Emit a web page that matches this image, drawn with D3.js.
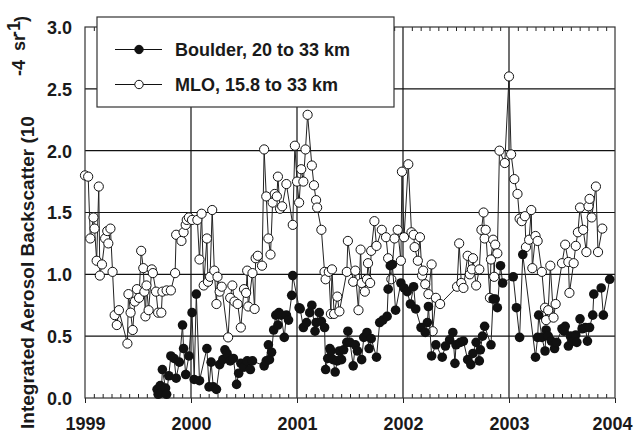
<!DOCTYPE html>
<html>
<head>
<meta charset="utf-8">
<script src="https://cdn.jsdelivr.net/npm/d3@7"></script>
<style>
  body { margin: 0; background: #fff; }
  text { font-family: "Liberation Sans", Arial, sans-serif; font-weight: bold; fill: #1a1a1a; }
</style>
</head>
<body>
<svg id="chart" width="634" height="435"></svg>
<script>
// MLO, 15.8 to 33 km (open circles)
const mloYears = [1999.00,1999.03,1999.05,1999.08,1999.09,1999.11,1999.13,1999.14,1999.16,1999.19,1999.21,1999.22,1999.24,1999.26,1999.28,1999.30,1999.32,1999.40,1999.41,1999.43,1999.45,1999.47,1999.49,1999.51,1999.53,1999.55,1999.56,1999.57,1999.58,1999.60,1999.63,1999.64,1999.67,1999.69,1999.72,1999.73,1999.77,1999.81,1999.85,1999.86,1999.91,1999.93,1999.95,1999.96,1999.98,2000.01,2000.06,2000.08,2000.10,2000.12,2000.15,2000.16,2000.18,2000.20,2000.22,2000.24,2000.25,2000.27,2000.29,2000.35,2000.37,2000.39,2000.41,2000.44,2000.47,2000.50,2000.52,2000.53,2000.54,2000.58,2000.60,2000.61,2000.63,2000.67,2000.69,2000.71,2000.73,2000.75,2000.77,2000.79,2000.81,2000.82,2000.84,2000.86,2000.90,2000.96,2000.98,2001.00,2001.02,2001.04,2001.06,2001.08,2001.10,2001.14,2001.16,2001.18,2001.19,2001.23,2001.26,2001.27,2001.30,2001.32,2001.33,2001.35,2001.38,2001.40,2001.47,2001.48,2001.53,2001.55,2001.58,2001.60,2001.61,2001.64,2001.66,2001.67,2001.69,2001.70,2001.73,2001.75,2001.80,2001.84,2001.86,2001.89,2001.92,2001.95,2001.98,2001.99,2002.01,2002.05,2002.08,2002.10,2002.11,2002.14,2002.16,2002.18,2002.19,2002.21,2002.24,2002.27,2002.28,2002.31,2002.35,2002.51,2002.53,2002.55,2002.57,2002.61,2002.63,2002.65,2002.66,2002.69,2002.72,2002.74,2002.76,2002.77,2002.78,2002.82,2002.83,2002.85,2002.86,2002.87,2002.89,2002.91,2002.96,2003.00,2003.02,2003.05,2003.08,2003.10,2003.12,2003.15,2003.16,2003.19,2003.21,2003.22,2003.25,2003.27,2003.31,2003.34,2003.35,2003.37,2003.39,2003.42,2003.44,2003.50,2003.53,2003.56,2003.57,2003.61,2003.63,2003.65,2003.67,2003.70,2003.73,2003.75,2003.76,2003.78,2003.82,2003.84,2003.88];
const mloValues = [1.80,1.79,1.29,1.46,1.37,1.11,1.71,0.99,1.08,1.29,1.35,1.25,1.37,1.02,0.67,0.59,0.71,0.44,0.84,0.69,0.55,0.78,0.88,0.81,1.19,1.05,0.86,0.66,0.91,0.71,1.04,1.01,0.86,0.69,0.69,0.86,0.87,0.87,1.01,1.32,1.27,1.34,1.40,1.44,1.46,1.44,1.44,1.12,1.49,0.91,1.29,0.94,0.98,1.52,1.03,0.76,0.98,0.86,0.90,0.49,0.81,0.91,0.78,0.76,0.57,0.88,0.85,1.03,0.74,1.01,0.72,1.13,1.15,1.07,2.01,1.63,1.29,1.16,1.58,1.65,1.63,1.79,1.53,1.55,1.73,1.40,2.04,1.75,1.58,1.85,1.75,2.01,2.29,1.88,1.72,1.60,1.54,1.36,1.02,0.96,1.02,0.68,1.04,0.68,0.82,0.70,1.02,1.27,0.94,1.03,0.71,1.20,0.93,0.86,0.96,1.09,0.93,1.19,1.43,1.23,1.36,1.30,1.13,0.96,1.29,1.36,1.11,1.83,1.30,1.89,1.34,1.32,1.22,1.11,1.30,0.99,1.03,0.92,0.84,1.08,0.54,0.81,0.76,0.90,1.25,0.93,0.89,1.15,1.00,1.04,1.13,0.91,1.04,1.36,1.50,1.29,1.36,0.81,1.12,1.28,0.98,1.24,1.17,2.00,1.90,2.60,1.97,1.77,1.65,1.45,1.43,1.47,1.22,1.28,1.52,1.05,1.31,1.27,1.02,0.73,0.63,0.71,1.07,0.65,0.76,1.09,1.24,1.10,0.85,1.09,1.23,1.34,1.54,1.36,1.18,1.55,1.61,1.46,1.71,1.18,1.37];

// Boulder, 20 to 33 km (filled circles)
const boulderYears = [1999.68,1999.69,1999.71,1999.72,1999.73,1999.76,1999.77,1999.79,1999.81,1999.84,1999.86,1999.89,1999.92,1999.93,1999.95,1999.98,2000.01,2000.03,2000.05,2000.08,2000.15,2000.17,2000.19,2000.21,2000.24,2000.27,2000.30,2000.32,2000.34,2000.37,2000.40,2000.43,2000.45,2000.47,2000.50,2000.53,2000.56,2000.58,2000.69,2000.71,2000.73,2000.74,2000.76,2000.78,2000.80,2000.82,2000.83,2000.85,2000.88,2000.90,2000.92,2000.95,2000.96,2001.02,2001.03,2001.06,2001.09,2001.12,2001.14,2001.17,2001.18,2001.21,2001.23,2001.26,2001.27,2001.29,2001.31,2001.32,2001.34,2001.36,2001.38,2001.40,2001.42,2001.44,2001.47,2001.48,2001.50,2001.53,2001.55,2001.57,2001.61,2001.63,2001.66,2001.68,2001.70,2001.75,2001.78,2001.81,2001.85,2001.86,2001.88,2001.90,2001.93,2001.98,2002.01,2002.04,2002.07,2002.10,2002.12,2002.17,2002.21,2002.23,2002.24,2002.27,2002.31,2002.37,2002.40,2002.44,2002.47,2002.49,2002.50,2002.54,2002.57,2002.61,2002.64,2002.66,2002.69,2002.72,2002.73,2002.75,2002.77,2002.83,2002.85,2002.87,2002.89,2002.92,2002.94,2003.04,2003.07,2003.10,2003.13,2003.25,2003.27,2003.28,2003.31,2003.34,2003.35,2003.37,2003.40,2003.43,2003.45,2003.50,2003.52,2003.53,2003.56,2003.58,2003.60,2003.63,2003.64,2003.67,2003.69,2003.72,2003.74,2003.76,2003.79,2003.80,2003.87,2003.89,2003.95];
const boulderValues = [0.07,0.03,0.10,0.04,0.23,0.08,0.03,0.18,0.34,0.32,0.16,0.29,0.59,0.40,0.19,0.34,0.69,0.15,0.84,0.14,0.40,0.09,0.29,0.09,0.07,0.27,0.31,0.39,0.36,0.30,0.32,0.11,0.20,0.28,0.25,0.30,0.23,0.30,0.26,0.30,0.43,0.31,0.37,0.55,0.67,0.59,0.69,0.67,0.49,0.67,0.63,0.83,0.99,0.73,0.72,0.57,0.61,0.69,0.75,0.54,0.61,0.69,0.62,0.57,0.23,0.32,0.40,0.38,0.31,0.21,0.30,0.38,0.31,0.39,0.45,0.54,0.45,0.26,0.43,0.38,0.31,0.49,0.53,0.40,0.48,0.33,0.61,0.63,0.66,0.88,1.07,1.08,0.71,0.93,0.89,0.86,0.76,0.90,0.72,0.57,0.53,0.61,0.74,0.34,0.43,0.33,0.42,0.47,0.53,0.28,0.43,0.45,0.46,0.31,0.27,0.36,0.45,0.30,0.39,0.50,0.58,0.43,0.80,0.80,0.73,1.07,0.93,0.98,0.73,0.49,1.16,0.33,0.49,0.67,0.49,0.38,0.55,0.50,0.46,0.40,0.45,0.56,0.54,0.58,0.42,0.50,0.46,0.51,0.45,0.64,0.56,0.57,0.46,0.57,0.67,0.84,0.89,0.67,0.96];

const yearTicks = [1999, 2000, 2001, 2002, 2003, 2004];
const valueTicks = [0.0, 0.5, 1.0, 1.5, 2.0, 2.5, 3.0];
const legendLabels = ["Boulder, 20 to 33 km", "MLO, 15.8 to 33 km"];

const svg = d3.select("#chart");
const plotLeft = 85, plotRight = 615, plotTop = 27, plotBottom = 398;

const x = d3.scaleLinear().domain([1999, 2004]).range([plotLeft, plotRight]);
const y = d3.scaleLinear().domain([0, 3]).range([plotBottom, plotTop]);

// grid
svg.append("g").selectAll("line")
  .data(valueTicks.slice(1, -1))
  .enter().append("line")
  .attr("x1", plotLeft).attr("x2", plotRight)
  .attr("y1", d => y(d)).attr("y2", d => y(d))
  .attr("stroke", "#111").attr("stroke-width", 1.2);
svg.append("g").selectAll("line")
  .data(yearTicks.slice(1, -1))
  .enter().append("line")
  .attr("x1", d => x(d)).attr("x2", d => x(d))
  .attr("y1", plotTop).attr("y2", plotBottom)
  .attr("stroke", "#111").attr("stroke-width", 1.2);

// monthly minor ticks, bottom (pointing up) and top (pointing down)
const months = d3.range(0, 60).map(i => 1999 + i / 12).filter((d, i) => i % 12 !== 0);
const minorBottom = svg.append("g").attr("transform", `translate(0,${plotBottom})`)
  .call(d3.axisBottom(x).tickValues(months).tickSize(-4).tickFormat(""));
const minorTop = svg.append("g").attr("transform", `translate(0,${plotTop})`)
  .call(d3.axisTop(x).tickValues(months).tickSize(-4).tickFormat(""));
[minorBottom, minorTop].forEach(g => {
  g.select(".domain").remove();
  g.selectAll("line").attr("stroke", "#222").attr("stroke-width", 1);
});

// year axis
const xAxis = svg.append("g").attr("transform", `translate(0,${plotBottom})`)
  .call(d3.axisBottom(x).tickValues(yearTicks).tickSize(5).tickPadding(14).tickFormat(d3.format("d")));
xAxis.select(".domain").remove();
xAxis.selectAll("line").attr("stroke", "#222");
xAxis.selectAll("text").attr("font-size", 18).attr("fill", "#1a1a1a").attr("font-family", null)
  .attr("dx", d => d === 2004 ? -3 : 0);

// value axis
const yAxis = svg.append("g").attr("transform", `translate(${plotLeft},0)`)
  .call(d3.axisLeft(y).tickValues(valueTicks).tickSize(0).tickPadding(13).tickFormat(d3.format(".1f")));
yAxis.select(".domain").remove();
yAxis.selectAll("text").attr("font-size", 18).attr("fill", "#1a1a1a").attr("font-family", null).attr("dy", "0.36em");

// frame
svg.append("rect")
  .attr("x", plotLeft).attr("y", plotTop)
  .attr("width", plotRight - plotLeft).attr("height", plotBottom - plotTop)
  .attr("fill", "none").attr("stroke", "#333").attr("stroke-width", 1.2);

// series
const mlo = mloYears.map((t, i) => ({t: t, v: mloValues[i]}));
const boulder = boulderYears.map((t, i) => ({t: t, v: boulderValues[i]}));
const line = d3.line().x(d => x(d.t)).y(d => y(d.v));

svg.append("path").datum(mlo)
  .attr("d", line).attr("fill", "none").attr("stroke", "#222").attr("stroke-width", 1);
svg.append("g").selectAll("circle")
  .data(mlo).enter().append("circle")
  .attr("cx", d => x(d.t)).attr("cy", d => y(d.v)).attr("r", 4.6)
  .attr("fill", "#fff").attr("stroke", "#111").attr("stroke-width", 1);

svg.append("path").datum(boulder)
  .attr("d", line).attr("fill", "none").attr("stroke", "#222").attr("stroke-width", 1);
svg.append("g").selectAll("circle")
  .data(boulder).enter().append("circle")
  .attr("cx", d => x(d.t)).attr("cy", d => y(d.v)).attr("r", 4.8)
  .attr("fill", "#111");

// legend
const legend = svg.append("g");
legend.append("rect")
  .attr("x", 97).attr("y", 17).attr("width", 297).attr("height", 90)
  .attr("fill", "#fff").attr("stroke", "#333").attr("stroke-width", 1.2);
const rows = legend.selectAll("g.row")
  .data(legendLabels).enter().append("g")
  .attr("class", "row")
  .attr("transform", (d, i) => `translate(0,${i === 0 ? 49.5 : 84.5})`);
rows.append("line").attr("x1", 115).attr("x2", 162).attr("stroke", "#111").attr("stroke-width", 1);
rows.append("circle").attr("cx", 139).attr("r", 4.2)
  .attr("fill", (d, i) => i === 0 ? "#111" : "#fff")
  .attr("stroke", "#111").attr("stroke-width", 1);
rows.append("text").attr("x", 175).attr("y", 6.5).attr("font-size", 18).text(d => d);

// y title
const title = svg.append("g").attr("transform", "rotate(-90)");
title.append("text").attr("x", -429).attr("y", 33.5).attr("font-size", 19)
  .text("Integrated Aerosol Backscatter (10");
title.append("text").attr("x", -76).attr("y", 25).attr("font-size", 18).text("-4");
title.append("text").attr("x", -51).attr("y", 25).attr("font-size", 18).text("sr");
title.append("text").attr("x", -37).attr("y", 20).attr("font-size", 18).text("-1");
title.append("text").attr("x", -22).attr("y", 27).attr("font-size", 18).text(")");
</script>
</body>
</html>
